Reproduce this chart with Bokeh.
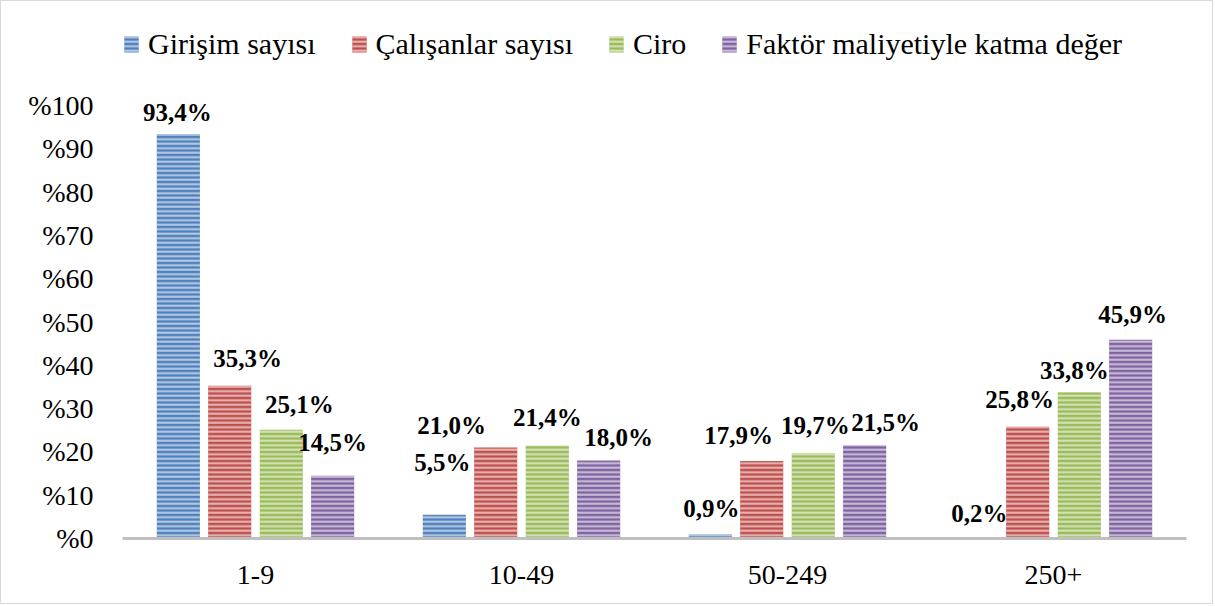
from bokeh.plotting import figure
from bokeh.models import ColumnDataSource, Range1d, FixedTicker, LabelSet, Legend, LegendItem
from bokeh.transform import dodge
from bokeh.embed import file_html
from bokeh.resources import INLINE

# ---- data ----
categories = ["1-9", "10-49", "50-249", "250+"]
series_names = ["Girişim sayısı", "Çalışanlar sayısı", "Ciro", "Faktör maliyetiyle katma değer"]
girisim = [93.4, 5.5, 0.9, 0.2]
calisanlar = [35.3, 21.0, 17.9, 25.8]
ciro = [25.1, 21.4, 19.7, 33.8]
faktor = [14.5, 18.0, 21.5, 45.9]
y_ticks = [0, 10, 20, 30, 40, 50, 60, 70, 80, 90, 100]
y_tick_labels = ["%0", "%10", "%20", "%30", "%40", "%50", "%60", "%70", "%80", "%90", "%100"]

# ---- styling ----
colors = ["#4F81BD", "#C0504D", "#9BBB59", "#8064A2"]
offsets = [-0.29, -0.097, 0.097, 0.29]
bar_width = 0.162
# per-label pixel nudges (dx, dy) as placed in the original
label_dx = [[-1, -2, 1, 3], [18, -44, -23, -8], [18, 0, 2, -5], [0, 20, 21, 2]]
label_dy = [[22, 52, 26, 24], [27, 22, 25, 27], [25, 28, 28, 22], [33, 23, 23, 25]]
FONT = "Liberation Serif"

W, H = 1213, 604
frame_left, frame_right = 121, 1185
frame_top, frame_bottom = 16, 537
px_per_unit = 4.33
frame_h = frame_bottom - frame_top
y_end = frame_h / px_per_unit

p = figure(x_range=categories, y_range=Range1d(0, y_end), width=W, height=H,
           output_backend="svg", toolbar_location=None,
           min_border_left=frame_left, min_border_right=W - frame_right,
           min_border_top=frame_top, min_border_bottom=H - frame_bottom)
p.styles = {"border": "1px solid #D9D9D9", "box-sizing": "border-box"}
p.outline_line_color = None
p.xgrid.visible = False
p.ygrid.visible = False

all_series = [girisim, calisanlar, ciro, faktor]
items = []
for i, vals in enumerate(all_series):
    src = ColumnDataSource(dict(
        cat=categories, val=vals,
        label=[("%.1f%%" % v).replace(".", ",") for v in vals],
        dx=label_dx[i], dy=label_dy[i]))
    r = p.vbar(x=dodge("cat", offsets[i], range=p.x_range), top="val", width=bar_width,
               source=src, fill_color=colors[i], line_color=None,
               hatch_pattern="horizontal_line", hatch_color="white",
               hatch_alpha=0.6, hatch_scale=4.5, hatch_weight=2)
    items.append(LegendItem(label=series_names[i], renderers=[r]))
    labels = LabelSet(x=dodge("cat", offsets[i], range=p.x_range), y="val", text="label",
                      x_offset="dx", y_offset="dy", source=src,
                      text_align="center", text_baseline="middle",
                      text_font=FONT, text_font_style="bold",
                      text_font_size="25px", text_color="#000000")
    p.add_layout(labels)

legend_row_h = 34
legend = Legend(items=items, orientation="horizontal",
                location=(0, frame_h - (43 - frame_top) - legend_row_h // 2))
legend.border_line_color = None
legend.background_fill_alpha = 0
legend.padding = 0
legend.margin = 0
legend.spacing = 34
legend.label_standoff = 8
legend.glyph_width = 18
legend.glyph_height = 20
legend.label_height = legend_row_h
legend.label_text_font = FONT
legend.label_text_font_size = "30px"
legend.label_text_color = "#000000"
p.add_layout(legend)

p.xaxis.axis_line_color = "#BFBFBF"
p.xaxis.axis_line_width = 3
p.xaxis.major_tick_line_color = None
p.xaxis.minor_tick_line_color = None
p.xaxis.major_tick_out = 0
p.xaxis.major_tick_in = 0
p.xaxis.major_label_standoff = 27
p.xaxis.major_label_text_font = FONT
p.xaxis.major_label_text_font_size = "28px"
p.xaxis.major_label_text_color = "#000000"

p.yaxis.axis_line_color = None
p.yaxis.major_tick_line_color = None
p.yaxis.minor_tick_line_color = None
p.yaxis.major_tick_out = 0
p.yaxis.major_tick_in = 0
p.yaxis.ticker = FixedTicker(ticks=y_ticks)
p.yaxis.major_label_overrides = {t: l for t, l in zip(y_ticks, y_tick_labels)}
p.yaxis.major_label_standoff = 29
p.yaxis.major_label_text_font = FONT
p.yaxis.major_label_text_font_size = "28px"
p.yaxis.major_label_text_color = "#000000"

open("out.html", "w").write(file_html(p, INLINE))
